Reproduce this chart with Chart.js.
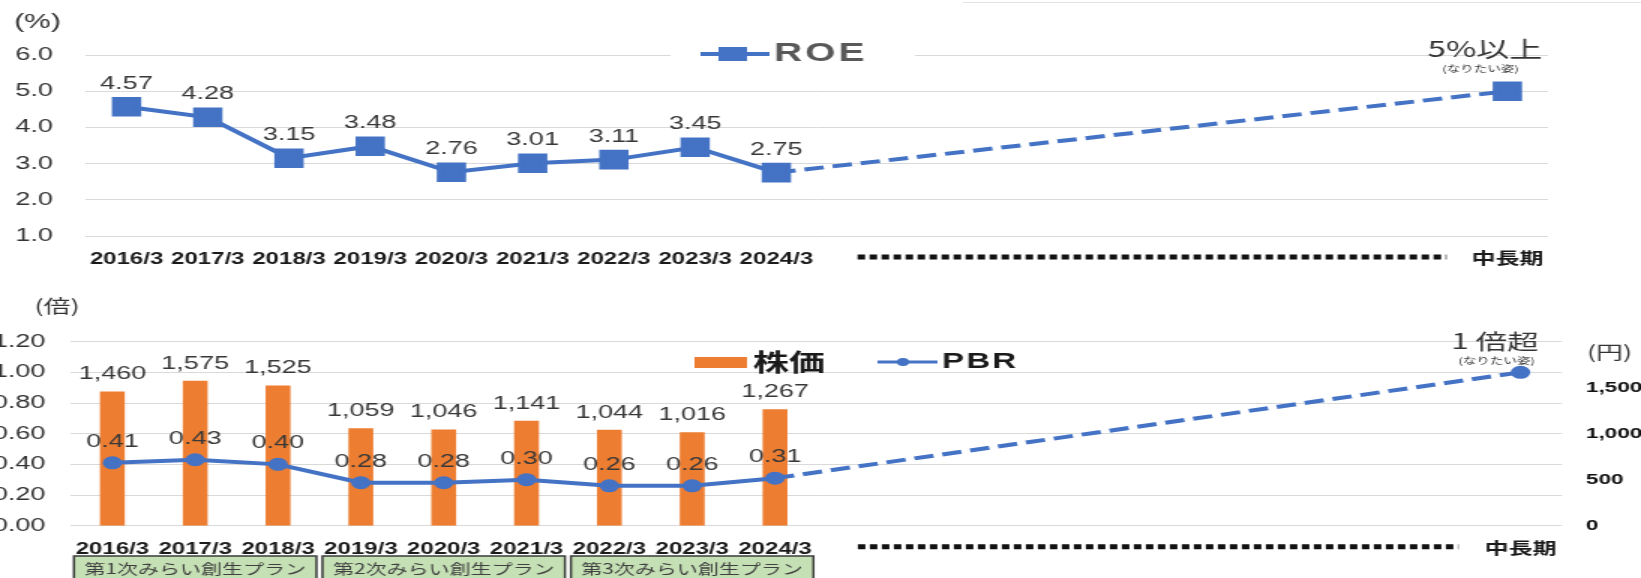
<!DOCTYPE html>
<html>
<head>
<meta charset="utf-8">
<title>ROE / PBR</title>
<style>
  body { margin: 0; background: #fff; overflow: hidden; }
  #wrap { position: relative; width: 1641px; height: 578px; overflow: hidden; }
  canvas { position: absolute; left: 0; }
  .edge { position: absolute; top: 2px; left: 963px; width: 678px; border-top: 1px solid #e3e3e3; }
</style>
</head>
<body>
<div id="wrap">
  <div class="edge"></div>
  <!-- the source picture is stretched sideways, so the canvases are drawn narrow and widened by css -->
  <canvas id="roeChart" width="1094" height="270" style="top:0; width:1641px; height:270px;"></canvas>
  <canvas id="pbrChart" width="1094" height="308" style="top:270px; width:1641px; height:308px;"></canvas>
</div>

<script src="https://cdn.jsdelivr.net/npm/chart.js"></script>
<script>
  const years = ['2016/3', '2017/3', '2018/3', '2019/3', '2020/3', '2021/3', '2022/3', '2023/3', '2024/3'];
  const gapSlots = 8;
  const targetLabel = '中長期';

  const roe = [4.57, 4.28, 3.15, 3.48, 2.76, 3.01, 3.11, 3.45, 2.75];
  const roeTarget = 5.0;
  const roeNote = '5%以上';

  const stockPrice = [1460, 1575, 1525, 1059, 1046, 1141, 1044, 1016, 1267];
  const pbr = [0.41, 0.43, 0.40, 0.28, 0.28, 0.30, 0.26, 0.26, 0.31];
  const pbrTarget = 1.0;
  const pbrNote = '1 倍超';
  const wishNote = '(なりたい姿)';

  const plans = ['第1次みらい創生プラン', '第2次みらい創生プラン', '第3次みらい創生プラン'];

  const BLUE = '#4472C4';
  const ORANGE = '#ED7D31';
  const GRID = '#d9d9d9';
  const SANS = '"Liberation Sans", Arial, "Noto Sans CJK JP", sans-serif';
  const JP = '"Noto Sans CJK JP", sans-serif';

  Chart.defaults.font.family = SANS;
  Chart.defaults.color = '#333';

  const gap = Array(gapSlots).fill(null);
  const xLabels = years.concat(Array(gapSlots).fill(''), [targetLabel]);
  const lastIdx = xLabels.length - 1;

  // value labels above points / bars
  function valueLabels(items) {
    return {
      id: 'valueLabels',
      afterDatasetsDraw(chart) {
        const ctx = chart.ctx;
        ctx.save();
        ctx.font = '18px ' + SANS;
        ctx.fillStyle = '#383838';
        ctx.textAlign = 'center';
        ctx.textBaseline = 'middle';
        items.forEach(it => {
          const meta = chart.getDatasetMeta(it.dataset);
          const data = chart.data.datasets[it.dataset].data;
          meta.data.forEach((el, j) => {
            if (j >= years.length || data[j] == null) return;
            ctx.fillText(it.fmt(data[j]), el.x, el.y - it.offset);
          });
        });
        ctx.restore();
      }
    };
  }

  // dotted bar under the empty years
  const dottedGap = {
    id: 'dottedGap',
    afterDraw(chart) {
      const x = chart.scales.x;
      const cw = x.getPixelForValue(1) - x.getPixelForValue(0);
      const x0 = x.getPixelForValue(years.length);
      const x1 = x.getPixelForValue(years.length + gapSlots - 1) + cw * 0.25;
      const y = x.top + 21;
      const ctx = chart.ctx;
      ctx.save();
      ctx.strokeStyle = '#111';
      ctx.lineWidth = 5;
      ctx.setLineDash([5, 3]);
      ctx.beginPath();
      ctx.moveTo(x0, y);
      ctx.lineTo(x1, y);
      ctx.stroke();
      ctx.restore();
    }
  };

  function dashLast(c) {
    return c.p1DataIndex === lastIdx ? [13, 6] : undefined;
  }

  // ---------- ROE ----------
  new Chart(document.getElementById('roeChart'), {
    type: 'line',
    data: {
      labels: xLabels,
      datasets: [{
        label: 'ROE',
        data: roe.concat(gap, [roeTarget]),
        borderColor: BLUE,
        backgroundColor: BLUE,
        borderWidth: 4,
        pointStyle: 'rect',
        pointRadius: 11,
        pointHoverRadius: 11,
        spanGaps: true,
        segment: { borderDash: dashLast }
      }]
    },
    options: {
      responsive: false,
      animation: false,
      events: [],
      layout: { padding: { top: 55, right: 62, left: 0, bottom: 0 } },
      plugins: { legend: { display: false }, tooltip: { enabled: false } },
      scales: {
        x: {
          offset: true,
          grid: { display: false },
          border: { display: false },
          ticks: { autoSkip: false, maxRotation: 0, padding: 6, color: '#1a1a1a', font: { size: 16, weight: 'bold' } },
          afterFit: s => { s.height = 34; }
        },
        y: {
          min: 1, max: 6,
          grid: { color: GRID, drawTicks: false },
          border: { display: false },
          ticks: { stepSize: 1, padding: 22, font: { size: 18 }, callback: v => v.toFixed(1) },
          afterFit: s => { s.width = 57.3; }
        }
      }
    },
    plugins: [
      valueLabels([{ dataset: 0, offset: 23, fmt: v => v.toFixed(2) }]),
      dottedGap,
      {
        id: 'roeExtras',
        afterDraw(chart) {
          const ctx = chart.ctx;
          ctx.save();
          // legend
          ctx.fillStyle = '#fff';
          ctx.fillRect(447, 44, 163, 22);
          ctx.strokeStyle = BLUE;
          ctx.lineWidth = 4;
          ctx.beginPath();
          ctx.moveTo(467, 54);
          ctx.lineTo(513, 54);
          ctx.stroke();
          ctx.fillStyle = BLUE;
          ctx.fillRect(479, 47, 19, 14);
          ctx.fillStyle = '#595959';
          ctx.font = 'bold 26px ' + SANS;
          ctx.letterSpacing = '2px';
          ctx.textAlign = 'left';
          ctx.textBaseline = 'middle';
          ctx.fillText('ROE', 516, 54);
          ctx.letterSpacing = '0px';
          // unit
          ctx.fillStyle = '#333';
          ctx.font = '20px ' + SANS;
          ctx.textAlign = 'center';
          ctx.fillText('(%)', 25, 22);
          // target note
          const p = chart.getDatasetMeta(0).data[lastIdx];
          ctx.font = '22px ' + JP;
          ctx.fillText(roeNote, p.x - 15, p.y - 43);
          ctx.font = '9px ' + JP;
          ctx.fillText(wishNote, p.x - 18, p.y - 23);
          ctx.restore();
        }
      }
    ]
  });

  // ---------- 株価 / PBR ----------
  new Chart(document.getElementById('pbrChart'), {
    type: 'bar',
    data: {
      labels: xLabels,
      datasets: [
        {
          type: 'line',
          label: 'PBR',
          data: pbr.concat(gap, [pbrTarget]),
          yAxisID: 'y',
          borderColor: BLUE,
          backgroundColor: BLUE,
          borderWidth: 4,
          pointRadius: 4.5,
          pointHoverRadius: 4.5,
          spanGaps: true,
          segment: { borderDash: dashLast },
          order: 0
        },
        {
          label: '株価',
          data: stockPrice,
          yAxisID: 'y1',
          backgroundColor: ORANGE,
          barPercentage: 0.3,
          categoryPercentage: 1,
          order: 1
        }
      ]
    },
    options: {
      responsive: false,
      animation: false,
      events: [],
      layout: { padding: { top: 71.7, right: 0, left: 0, bottom: 0 } },
      plugins: { legend: { display: false }, tooltip: { enabled: false } },
      scales: {
        x: {
          offset: true,
          grid: { display: false },
          border: { display: false },
          ticks: { autoSkip: false, maxRotation: 0, padding: 6, color: '#1a1a1a', font: { size: 16, weight: 'bold' } },
          afterFit: s => { s.height = 52.3; }
        },
        y: {
          position: 'left',
          min: 0, max: 1.2,
          grid: { color: GRID, drawTicks: false },
          border: { display: false },
          ticks: { stepSize: 0.2, padding: 17, font: { size: 18 }, callback: v => v.toFixed(2) },
          afterFit: s => { s.width = 47.3; }
        },
        y1: {
          position: 'right',
          min: 0, max: 2000,
          grid: { display: false, drawTicks: false },
          border: { display: false },
          ticks: { stepSize: 500, padding: 16, color: '#111', font: { size: 15, weight: 'bold' },
                   callback: v => v === 2000 ? '' : v.toLocaleString('en-US') },
          afterFit: s => { s.width = 52.7; }
        }
      }
    },
    plugins: [
      valueLabels([
        { dataset: 1, offset: 17, fmt: v => v.toLocaleString('en-US') },
        { dataset: 0, offset: 21, fmt: v => v.toFixed(2) }
      ]),
      dottedGap,
      {
        id: 'pbrExtras',
        afterDraw(chart) {
          const ctx = chart.ctx;
          const x = chart.scales.x;
          const cw = x.getPixelForValue(1) - x.getPixelForValue(0);
          ctx.save();
          // legend
          ctx.fillStyle = ORANGE;
          ctx.fillRect(463, 87, 35, 11);
          ctx.fillStyle = '#1a1a1a';
          ctx.font = 'bold 24px ' + JP;
          ctx.textAlign = 'left';
          ctx.textBaseline = 'middle';
          ctx.fillText('株価', 502, 92);
          ctx.strokeStyle = BLUE;
          ctx.lineWidth = 3;
          ctx.beginPath();
          ctx.moveTo(585, 92);
          ctx.lineTo(625, 92);
          ctx.stroke();
          ctx.fillStyle = BLUE;
          ctx.beginPath();
          ctx.arc(602, 92, 4, 0, Math.PI * 2);
          ctx.fill();
          ctx.fillStyle = '#1a1a1a';
          ctx.font = 'bold 22px ' + SANS;
          ctx.letterSpacing = '1.5px';
          ctx.fillText('PBR', 628, 92);
          ctx.letterSpacing = '0px';
          // units
          ctx.fillStyle = '#333';
          ctx.font = '18px ' + JP;
          ctx.textAlign = 'center';
          ctx.fillText('(倍)', 38, 36);
          ctx.textAlign = 'left';
          ctx.fillText('(円)', 1058, 82);
          // target note
          const p = chart.getDatasetMeta(0).data[lastIdx];
          ctx.textAlign = 'center';
          ctx.font = '21px ' + JP;
          ctx.fillText(pbrNote, p.x - 17, p.y - 31);
          ctx.font = '9px ' + JP;
          ctx.fillText(wishNote, p.x - 16, p.y - 12);
          // plan boxes
          plans.forEach((name, i) => {
            const cx = x.getPixelForValue(3 * i + 1);
            const w = cw * 3 - 4;
            const top = x.top + 30.3;
            ctx.fillStyle = '#C5E0B4';
            ctx.fillRect(cx - w / 2, top, w, 30);
            ctx.strokeStyle = '#3a3a3a';
            ctx.lineWidth = 1.5;
            ctx.strokeRect(cx - w / 2, top, w, 30);
            ctx.fillStyle = '#404040';
            ctx.font = '14px ' + JP;
            ctx.fillText(name, cx, top + 13);
          });
          ctx.restore();
        }
      }
    ]
  });
</script>
</body>
</html>
